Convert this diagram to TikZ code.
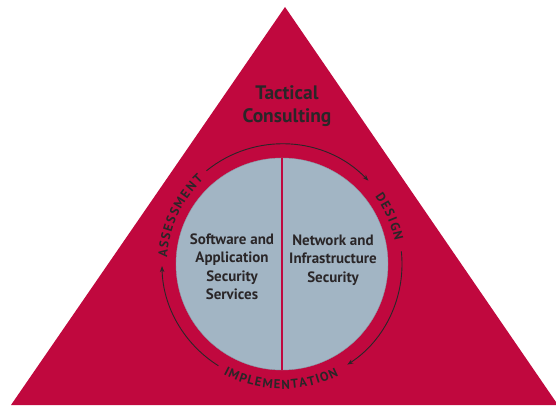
\documentclass[tikz,border=0pt]{standalone}
\usepackage{fontspec}
\setsansfont{PT Sans}
\usetikzlibrary{decorations.text,arrows.meta}

\definecolor{dreieckrot}{RGB}{192,8,62}
\definecolor{kreisgrau}{RGB}{162,181,196}
\definecolor{schrift}{RGB}{42,38,40}

\newcommand{\titelschrift}{\fontsize{19.5}{23}\selectfont}
\newcommand{\innenschrift}{\fontsize{15}{18.5}\selectfont}
\newcommand{\ringschrift}{\fontsize{12.8}{13}\selectfont}

\begin{document}
\begin{tikzpicture}[%show background rectangle,
        x=1pt, y=1pt,
        font=\sffamily\bfseries, text=schrift,
        ring pfeil/.style={draw=schrift, line width=0.9pt,
            -{Stealth[length=6pt,width=4.5pt]}},
        ring text/.style={decorate, decoration={text along path,
            text align=fit to path, text color=schrift,
            text={|\sffamily\bfseries\ringschrift|#1}}},
        >=latex % Voreinstellung für Pfeilspitzen
        ]
            \useasboundingbox (0,0) rectangle (556,409);

            % Dreieck
            \coordinate (A) at (11,4);
            \coordinate (B) at (558,4);
            \coordinate (C) at (285,402);
            \fill [dreieckrot] (A) -- (B) -- (C) -- cycle;

            % Kreis
            \coordinate (M) at (282,145);
            \node [circle, fill=kreisgrau, draw=kreisgrau!85!black,
                   line width=0.4pt, minimum size=212pt, inner sep=0pt]
                   (kreis) at (M) {};
            \draw [dreieckrot, line width=1.8pt] (kreis.north) -- (kreis.south);

            % Beschriftung
            \node [align=center, font=\sffamily\bfseries\titelschrift]
                  (titel) at (287,303) {Tactical\\Consulting};
            \node [align=center, font=\sffamily\bfseries\innenschrift]
                  (links) at (232,142) {Software and\\Application\\Security\\Services};
            \node [align=center, font=\sffamily\bfseries\innenschrift]
                  (rechts) at (333,149) {Network and\\Infrastructure\\Security};

            % Ring
            \path [ring text=ASSESSMENT]
                  ([shift={(M)}]177:115) arc (177:133:115);
            \path [ring text=DESIGN]
                  ([shift={(M)}]36:115) arc (36:11.5:115);
            \path [ring text=IMPLEMENTATION]
                  ([shift={(M)}]242:125) arc (242:297:125);

            % Pfeile
            \draw [ring pfeil] ([shift={(M)}]129:120) arc (129:44:120);
            \draw [ring pfeil] ([shift={(M)}]6:120) arc (6:-57:120);
            \draw [ring pfeil] ([shift={(M)}]238:120) arc (238:181:120);

        \end{tikzpicture}
\end{document}
